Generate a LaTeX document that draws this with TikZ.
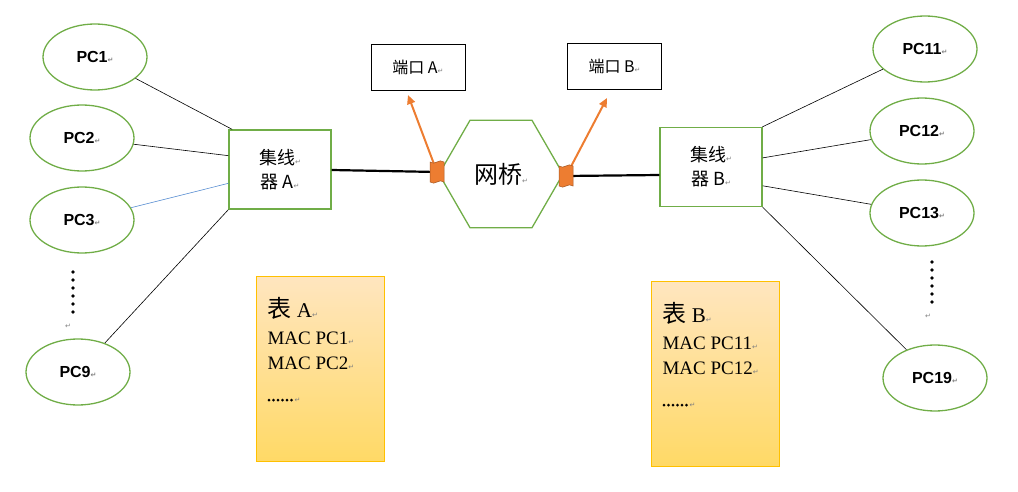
\documentclass[tikz,border=0pt]{standalone}
\usepackage{fontspec}
\setmainfont{Liberation Serif}
\setsansfont{Liberation Sans}
\newfontfamily\cjk{Noto Sans CJK SC}
\newfontfamily\djv{DejaVu Sans}
\usetikzlibrary{shapes.geometric,arrows.meta}
\definecolor{pcg}{HTML}{70AD47}
\definecolor{org}{HTML}{ED7D31}
\definecolor{tb}{HTML}{FFC000}
\newcommand{\parmk}{{\djv\fontsize{7}{7}\selectfont\color{gray}↵}}
\newcommand{\tdots}{\raisebox{1pt}{\foreach \i in {1,...,6}{\tikz\fill (0,0) circle (1.5pt);\hspace{1.5pt}}}}
\begin{document}
\begin{tikzpicture}[x=1pt,y=-1pt,
 pc/.style={ellipse,draw=pcg,line width=1.3pt,minimum width=104pt,minimum height=66pt,font=\sffamily\bfseries\fontsize{16}{16}\selectfont},
 hub/.style={draw=pcg,line width=1.3pt,minimum width=102pt,minimum height=79pt,align=center,font=\cjk\fontsize{18}{24}\selectfont},
 port/.style={draw,thick,minimum width=94pt,minimum height=46pt,font=\cjk\fontsize{16}{16}\selectfont},
 tab/.style={draw=tb,top color=yellow!20!orange!25,bottom color=tb!60,minimum width=128pt,minimum height=185pt,align=left,anchor=north west,inner sep=0pt},
 ln/.style={black,line width=0.6pt},
 flag/.style={fill=org,draw=org!70!black,line width=0.5pt}]
\useasboundingbox (0,0) rectangle (1018,492);
\node[pc] (pc1) at (95,57) {PC1\parmk};
\node[pc] (pc2) at (82,138) {PC2\parmk};
\node[pc] (pc3) at (82,220) {PC3\parmk};
\node[pc] (pc9) at (78,372) {PC9\parmk};
\node[pc] (pc11) at (925,49) {PC11\parmk};
\node[pc] (pc12) at (922,131) {PC12\parmk};
\node[pc] (pc13) at (922,213) {PC13\parmk};
\node[pc] (pc19) at (935,378) {PC19\parmk};
\node[hub] (ha) at (280,169.5) {集线\parmk\\器 A\parmk};
\node[hub] (hb) at (711,167) {集线\parmk\\器 B\parmk};
\node[regular polygon,regular polygon sides=6,shape border rotate=0,draw=pcg,line width=1.3pt,minimum size=124pt,inner sep=0pt,font=\cjk\fontsize{24}{24}\selectfont] (br) at (501,174) {网桥\parmk};
\node[port] (pa) at (418,67) {端口 A\parmk};
\node[port] (pb) at (614.5,66) {端口 B\parmk};
\node[tab] (ta) at (256,276) {};
\node[tab] (tb) at (651,281) {};
\node[anchor=north west,align=left,font=\fontsize{19}{25}\selectfont] at (264,294) {{\cjk\fontsize{24}{24}\selectfont 表 }{\fontsize{21}{21}\selectfont A}\parmk\\[2pt] MAC PC1\parmk\\ MAC PC2\parmk\\[8pt] \tdots\parmk};
\node[anchor=north west,align=left,font=\fontsize{19}{25}\selectfont] at (659,299) {{\cjk\fontsize{24}{24}\selectfont 表 }{\fontsize{21}{21}\selectfont B}\parmk\\[2pt] MAC PC11\parmk\\ MAC PC12\parmk\\[8pt] \tdots\parmk};
\foreach \y in {272,280,...,312} {\fill (73,\y) circle (1.8pt); \fill (932,\y-10) circle (1.8pt);}
\node at (68,326) {\parmk};
\node at (928,316) {\parmk};
\coordinate (fa) at (437,172);
\coordinate (fb) at (566,176);
\coordinate (aa) at (408,95);
\coordinate (ab) at (607,98);
\draw[ln] (pc1) -- (ha.140);
\draw[ln] (pc2) -- (ha.165);
\draw[ln,color=cyan!50!blue!70] (pc3) -- (ha.195);
\draw[ln] (pc9) -- (ha.south west);
\draw[ln] (pc11) -- (hb.38);
\draw[ln] (pc12) -- (hb.10);
\draw[ln] (pc13) -- (hb.-20);
\draw[ln] (pc19) -- (hb.south east);
\draw[line width=2.2pt] (ha.east |- 0,170) -- (fa);
\draw[line width=2.2pt] (hb.west |- 0,175) -- (fb);
\draw[org,line width=2pt,-{Triangle[length=9pt,width=8pt]}] (fa) -- (aa);
\draw[org,line width=2pt,-{Triangle[length=9pt,width=8pt]}] (fb) -- (ab);
\foreach \c in {fa,fb} {
\draw[flag] ([shift={(-7,-10)}]\c) .. controls +(5,4) and +(-5,-4) .. ++(14,0) -- ++(0,20) .. controls +(-5,-4) and +(5,4) .. ++(-14,0) -- cycle;}
\end{tikzpicture}
\end{document}
